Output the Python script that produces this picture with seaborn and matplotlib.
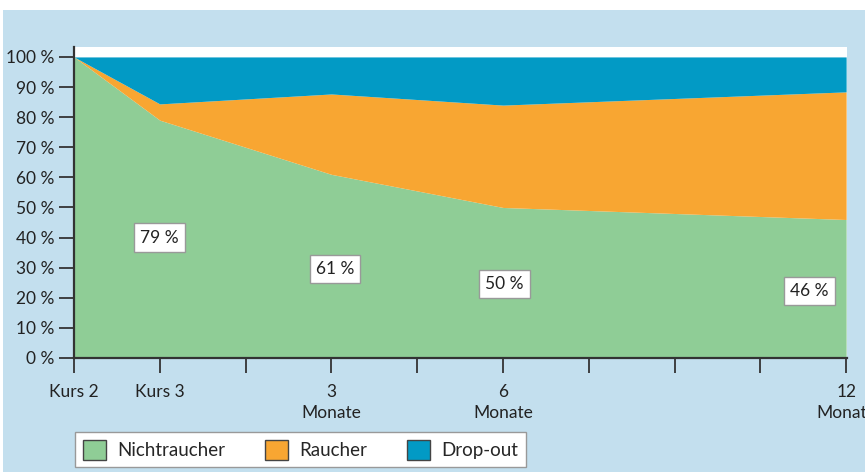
import numpy as np
import matplotlib
matplotlib.use("Agg")
import matplotlib.pyplot as plt
import seaborn as sns
from matplotlib.patches import Rectangle, Patch

sns.set_theme(style="white")
plt.rcParams["font.family"] = ["Lato", "DejaVu Sans"]

# Data (percent of participants)
x_pos = [0, 1, 3, 5, 9]
nichtraucher = [100, 79, 61, 50, 46]
raucher = [0, 5.4, 26.7, 34, 42.4]
dropout = [0, 15.6, 12.3, 16, 11.6]

tick_pos = list(range(10))
tick_labels = ["Kurs 2", "Kurs 3", "", "3\nMonate", "", "6\nMonate", "", "", "", "12\nMonate"]
series_names = ["Nichtraucher", "Raucher", "Drop-out"]
colors = ["#8fcd96", "#f8a632", "#029ac5"]

# label boxes: text, x, y
labels = ["79 %", "61 %", "50 %", "46 %"]
label_x = [1.0, 3.04, 5.02, 8.57]
label_y = [40.0, 29.6, 24.6, 22.3]

bg = "#c3dfee"
fig = plt.figure(figsize=(8.65, 4.72), dpi=100, facecolor="white")
fig.patches.append(Rectangle((3 / 865, 0), 1, 1 - 10 / 472, transform=fig.transFigure,
                             facecolor=bg, edgecolor="none", zorder=-10))

ax = fig.add_axes([74 / 865, 1 - 358 / 472, (847 - 74) / 865, (358 - 47) / 472])
ax.set_facecolor("white")
ax.stackplot(x_pos, nichtraucher, raucher, dropout, colors=colors, linewidth=0)

ax.set_xlim(0, 9.01)
ax.set_ylim(0, 103.3)
ax.set_yticks(range(0, 101, 10))
ax.set_yticklabels([f"{v} %" for v in range(0, 101, 10)])
ax.set_xticks(tick_pos)
ax.set_xticklabels(tick_labels, linespacing=1.4)

for s in ["top", "right"]:
    ax.spines[s].set_visible(False)
for s in ["left", "bottom"]:
    ax.spines[s].set_color("#333333")
    ax.spines[s].set_linewidth(1.6)
    ax.spines[s].set_zorder(5)

ax.tick_params(axis="both", which="major", bottom=True, left=True, direction="out",
               length=11, width=1.3, color="#333333", labelcolor="#222222",
               labelsize=12.5, pad=3)
ax.tick_params(axis="x", pad=7.5)

for t, xx, yy in zip(labels, label_x, label_y):
    ax.text(xx, yy, t, ha="center", va="center", fontsize=12.5, color="#222222",
            bbox=dict(boxstyle="square,pad=0.35", facecolor="white", edgecolor="#999999", linewidth=1))

handles = [Patch(facecolor=c, edgecolor="#444444", linewidth=1) for c in colors]
leg = fig.legend(handles, series_names, loc="lower left", ncol=3,
                 bbox_to_anchor=(75 / 865, 5 / 472), bbox_transform=fig.transFigure,
                 borderaxespad=0, fancybox=False, frameon=True, fontsize=13.5,
                 handlelength=1.25, handleheight=1.25, handletextpad=0.6,
                 columnspacing=2.1, borderpad=0.4)
leg.get_frame().set_edgecolor("#999999")
leg.get_frame().set_linewidth(1)
leg.get_frame().set_facecolor("white")
leg.get_frame().set_alpha(1)

fig.savefig("out.png", dpi=100, facecolor=fig.get_facecolor())
